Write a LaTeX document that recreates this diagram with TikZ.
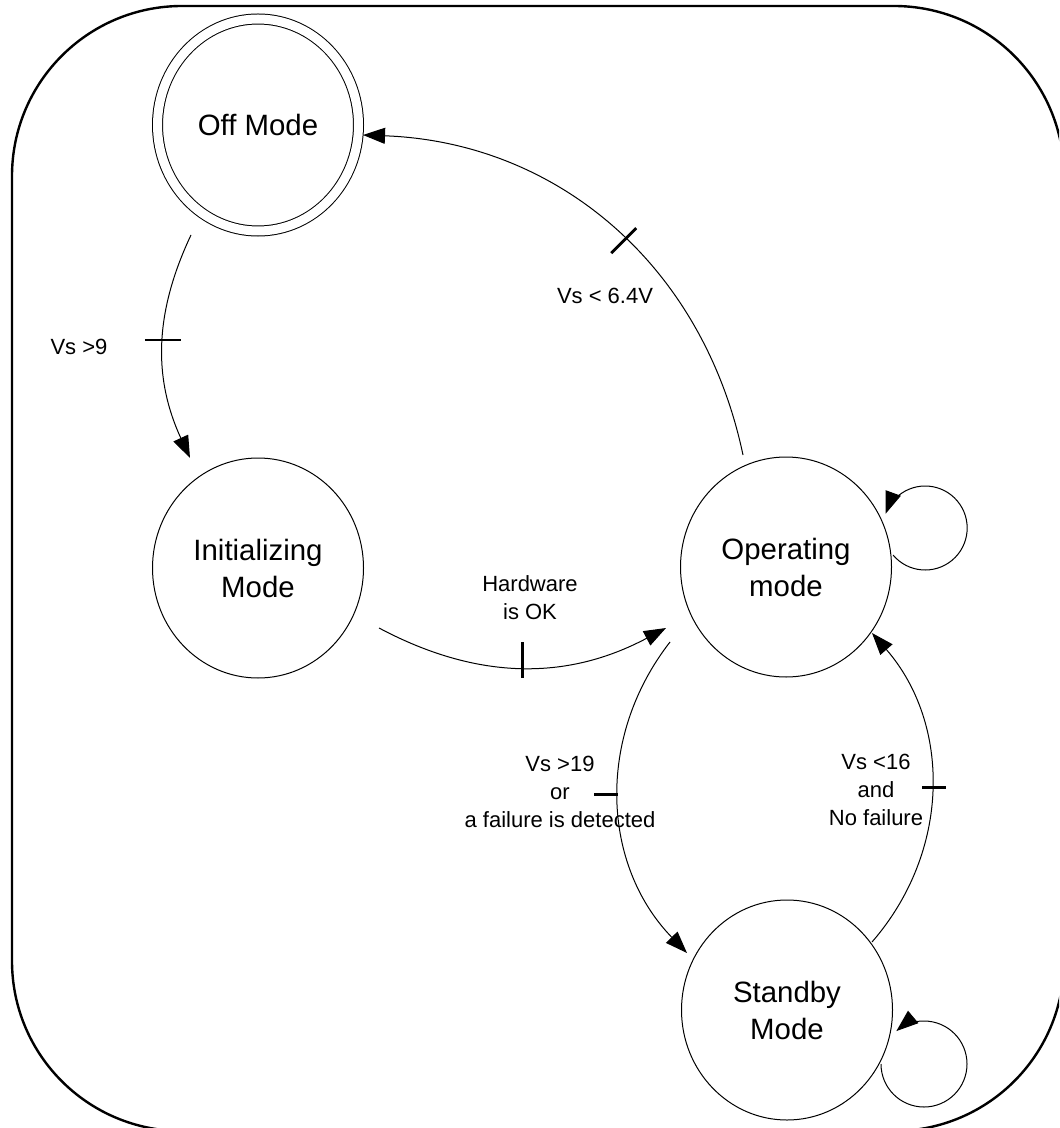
\documentclass[tikz,border=0pt]{standalone}
\usepackage{fontspec}
\setmainfont{Liberation Sans}
\usetikzlibrary{shapes.geometric,arrows.meta,calc}

\begin{document}
\begin{tikzpicture}[x=0.5pt, y=0.5pt,
    etat/.style={draw, ellipse, line width=0.5pt, minimum width=105.5pt, minimum height=110pt, inner sep=0pt, align=center, font=\fontsize{14.7}{18.5}\selectfont},
    trans/.style={line width=0.5pt, -{Triangle[length=11pt, width=8pt]}},
    barre/.style={line width=1.4pt},
    cond/.style={align=center, font=\fontsize{11}{14}\selectfont}]

    \useasboundingbox (0, 0) rectangle (1059, -1128);
    \clip (0, 0) rectangle (1059, -1128);

    % cadre
    \draw[line width=1.2pt, rounded corners=85pt] (12, -6) rectangle (1064, -1131);

    % etats
    \node[etat, double, double distance=4.5pt, minimum width=100.5pt, minimum height=106pt] (off) at (258, -125) {Off Mode};
    \node[etat] (init) at (258, -568) {Initializing\\Mode};
    \node[etat] (oper) at (786, -567) {Operating\\mode};
    \node[etat] (stby) at (787, -1010) {Standby\\Mode};

    % transitions
    \draw[trans] ($(off)+(-67,-110)$) to[bend right=25] coordinate[pos=0.47] (b1) ($(init)+(-68,110)$);
    \draw[trans] ($(init)+(121,-60)$) to[bend right=28] coordinate[pos=0.5] (b2) ($(oper)+(-120,-61)$);
    \draw[trans] ($(oper)+(-43,112)$) to[bend right=38] coordinate[pos=0.46] (b3) ($(off)+(105,-10)$);
    \draw[trans] ($(oper)+(-116,-75)$) to[bend right=41] coordinate[pos=0.48] (b4) ($(stby)+(-100,57)$);
    \draw[trans] ($(stby)+(85,68)$) to[bend right=41] coordinate[pos=0.5] (b5) ($(oper)+(86,-66)$);

    % boucles
    \draw[trans] ($(oper)+(107,12)$) arc[start angle=220, end angle=520, radius=42];
    \draw[trans] ($(stby)+(94,-54)$) arc[start angle=180, end angle=490, radius=43];

    % barres de franchissement
    \draw[barre] ($(b1)+(-18,0)$) -- ($(b1)+(18,0)$);
    \draw[barre] ($(b2)+(0,25)$) -- ($(b2)+(0,-11)$);
    \draw[barre] ($(b3)+(-15,-13)$) -- ($(b3)+(10,12)$);
    \draw[barre] ($(b4)+(-24,0)$) -- (b4);
    \draw[barre] ($(b5)+(-9,0)$) -- ($(b5)+(15,0)$);

    % conditions
    \node[cond] (c1) at (79, -347) {Vs >9};
    \node[cond] (c2) at (530, -598) {Hardware\\is OK};
    \node[cond] (c3) at (605, -296) {Vs < 6.4V};
    \node[cond] (c4) at (560, -792) {Vs >19\\or\\a failure is detected};
    \node[cond] (c5) at (876, -790) {Vs <16\\and\\No failure};

\end{tikzpicture}
\end{document}
